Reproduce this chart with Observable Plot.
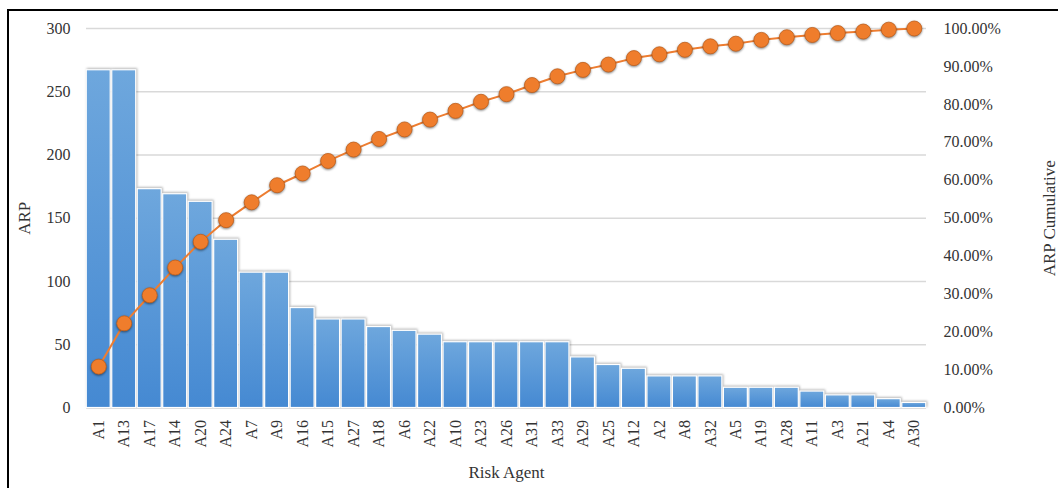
<!DOCTYPE html>
<html>
<head>
<meta charset="utf-8">
<script src="https://cdn.jsdelivr.net/npm/d3@7"></script>
<script src="https://cdn.jsdelivr.net/npm/@observablehq/plot@0.6"></script>
<style>
  html, body { margin: 0; padding: 0; background: #fff; overflow: hidden; width: 1058px; height: 488px; }
  #wrap { position: relative; width: 1058px; height: 488px; }
  #frame { position: absolute; left: 7px; top: 9px; width: 1200px; height: 700px;
           border-left: 2px solid #000; border-top: 2px solid #000; pointer-events: none; z-index: 2; }
  #chart { position: absolute; left: 0; top: 0; z-index: 1; }
</style>
</head>
<body>
<div id="wrap">
  <div id="chart"></div>
  <div id="frame"></div>
</div>
<script>
const agents = ["A1","A13","A17","A14","A20","A24","A7","A9","A16","A15","A27","A18","A6","A22","A10","A23","A26","A31","A33","A29","A25","A12","A2","A8","A32","A5","A19","A28","A11","A3","A21","A4","A30"];
const arp = [267,267,173,169,163,133,107,107,79,70,70,64,61,58,52,52,52,52,52,40,34,31,25,25,25,16,16,16,13,10,10,7,4];
const cumulativePct = [10.9,22.3,29.7,37.0,43.8,49.5,54.2,58.7,61.8,65.1,68.1,70.9,73.4,76.0,78.3,80.7,82.7,85.1,87.4,89.1,90.5,92.2,93.2,94.4,95.3,96.0,97.0,97.7,98.3,98.8,99.2,99.7,100];
const leftTicks = [0,50,100,150,200,250,300];
const rightTicks = [0,10,20,30,40,50,60,70,80,90,100];

const rows = agents.map((a, i) => ({agent: a, arp: arp[i], cum: cumulativePct[i]}));
const pctToY = p => p * 3; // 100% maps to 300 on the shared y scale

const textColor = "#333";

const chart = Plot.plot({
  width: 1058,
  height: 488,
  marginLeft: 86,
  marginRight: 132,
  marginTop: 28,
  marginBottom: 80.5,
  style: {fontFamily: "'Liberation Serif', 'DejaVu Serif', serif", fontSize: "16px", color: textColor, background: "transparent", overflow: "visible"},
  x: {domain: agents, paddingInner: 0.06, paddingOuter: 0.01, round: false, label: null},
  y: {domain: [0, 300], label: null},
  marks: [
    Plot.gridY(leftTicks, {stroke: "#d9d9d9", strokeOpacity: 1, strokeWidth: 1.5}),
    Plot.barY(rows, {x: "agent", y: "arp", fill: "url(#barGrad)", stroke: "#fff", strokeWidth: 1.2}),
    Plot.line(rows, {x: "agent", y: d => pctToY(d.cum), stroke: "#ed7d31", strokeWidth: 2}),
    Plot.dot(rows, {x: "agent", y: d => pctToY(d.cum), r: 7.5, fill: "#ef7d2c", stroke: "#c0601c", strokeWidth: 0.8}),
    Plot.axisY(leftTicks, {anchor: "left", tickSize: 0, tickPadding: 16, fontSize: 16, label: null}),
    Plot.axisY(rightTicks.map(pctToY), {anchor: "right", tickSize: 0, tickPadding: 17, fontSize: 16, label: null, tickFormat: d => (d / 3).toFixed(2) + "%"}),
    Plot.axisX({tickSize: 0, tickPadding: 12, tickRotate: -90, fontSize: 16, label: null}),
    Plot.text(["ARP"], {frameAnchor: "left", textAnchor: "middle", dx: -62, rotate: -90, fontSize: 17, fill: textColor}),
    Plot.text(["ARP Cumulative"], {frameAnchor: "right", textAnchor: "middle", dx: 123, rotate: -90, fontSize: 17, fill: textColor}),
    Plot.text(["Risk Agent"], {frameAnchor: "bottom", dy: 70, fontSize: 17, fill: textColor})
  ]
});

// gradient for bars
const svg = d3.select(chart);
const defs = svg.insert("defs", ":first-child");
const grad = defs.append("linearGradient").attr("id", "barGrad")
  .attr("x1", 0).attr("y1", 0).attr("x2", 0).attr("y2", 1);
grad.append("stop").attr("offset", "0%").attr("stop-color", "#6ea7dd");
grad.append("stop").attr("offset", "100%").attr("stop-color", "#4589d2");

svg.selectAll("g[aria-label='bar']").style("filter", "drop-shadow(1.5px -1px 1.2px rgba(0,0,0,0.28))");
svg.selectAll("g[aria-label='dot']").style("filter", "drop-shadow(0.8px 1.5px 1.2px rgba(0,0,0,0.5))");

document.getElementById("chart").appendChild(chart);
</script>
</body>
</html>
